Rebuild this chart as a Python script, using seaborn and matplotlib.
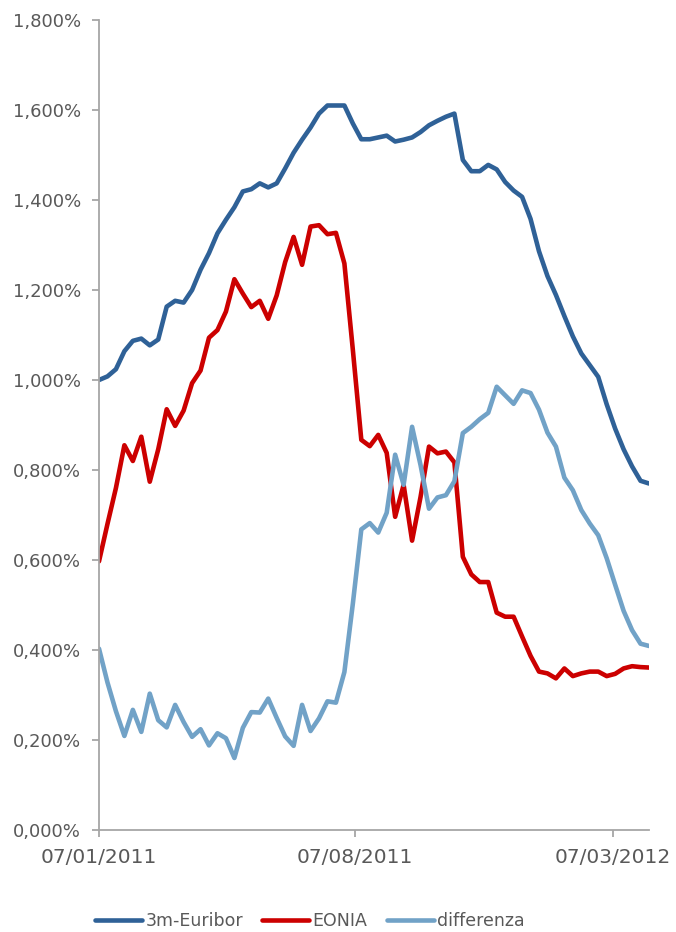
import matplotlib
matplotlib.use("Agg")
import matplotlib.pyplot as plt
import matplotlib.dates as mdates
from matplotlib.ticker import FuncFormatter, MultipleLocator
import numpy as np
import pandas as pd
import seaborn as sns

# Weekly observations starting 07/01/2011
start_date = "2011-01-07"
n_weeks = 66

euribor_3m = [
    1.000, 1.008, 1.024, 1.064, 1.087, 1.092, 1.077, 1.090, 1.163, 1.176,
    1.172, 1.200, 1.245, 1.282, 1.326, 1.356, 1.384, 1.419, 1.424, 1.437,
    1.428, 1.437, 1.470, 1.505, 1.534, 1.561, 1.592, 1.610, 1.610, 1.610,
    1.570, 1.535, 1.535, 1.539, 1.543, 1.530, 1.534, 1.539, 1.551, 1.566,
    1.576, 1.585, 1.592, 1.489, 1.464, 1.464, 1.478, 1.468, 1.440, 1.421,
    1.407, 1.358, 1.286, 1.231, 1.189, 1.142, 1.097, 1.059, 1.033, 1.007,
    0.946, 0.892, 0.846, 0.808, 0.776, 0.770,
]

eonia = [
    0.597, 0.680, 0.760, 0.855, 0.820, 0.874, 0.774, 0.846, 0.935, 0.898,
    0.932, 0.993, 1.021, 1.094, 1.111, 1.152, 1.224, 1.192, 1.162, 1.176,
    1.136, 1.188, 1.262, 1.318, 1.256, 1.341, 1.344, 1.324, 1.327, 1.259,
    1.067, 0.867, 0.853, 0.878, 0.838, 0.696, 0.767, 0.643, 0.740, 0.852,
    0.837, 0.841, 0.817, 0.607, 0.568, 0.551, 0.551, 0.483, 0.474, 0.474,
    0.430, 0.387, 0.352, 0.348, 0.337, 0.359, 0.342, 0.348, 0.352, 0.352,
    0.342, 0.347, 0.359, 0.364, 0.362, 0.361,
]

differenza = [
    0.403, 0.328, 0.264, 0.209, 0.267, 0.218, 0.303, 0.244, 0.228, 0.278,
    0.240, 0.207, 0.224, 0.188, 0.215, 0.204, 0.160, 0.227, 0.262, 0.261,
    0.292, 0.249, 0.208, 0.187, 0.278, 0.220, 0.248, 0.286, 0.283, 0.351,
    0.503, 0.668, 0.682, 0.661, 0.705, 0.834, 0.767, 0.896, 0.811, 0.714,
    0.739, 0.744, 0.775, 0.882, 0.896, 0.913, 0.927, 0.985, 0.966, 0.947,
    0.977, 0.971, 0.934, 0.883, 0.852, 0.783, 0.755, 0.711, 0.681, 0.655,
    0.604, 0.545, 0.487, 0.444, 0.414, 0.409,
]

series_names = ["3m-Euribor", "EONIA", "differenza"]
series_colors = ["#2F6197", "#CC0000", "#71A2C7"]
tick_dates = ["2011-01-07", "2011-08-07", "2012-03-07"]

dates = pd.date_range(start_date, periods=n_weeks, freq="7D")
df = pd.concat([
    pd.DataFrame({"data": dates, "valore": vals, "serie": name})
    for name, vals in zip(series_names, [euribor_3m, eonia, differenza])
], ignore_index=True)

sns.set_theme(style="white")
plt.rcParams["font.family"] = ["DejaVu Sans"]

fig = plt.figure(figsize=(6.76, 9.32), dpi=100)
ax = fig.add_axes([99 / 676, 1 - 830 / 932, 550 / 676, 810 / 932])

sns.lineplot(
    data=df, x="data", y="valore", hue="serie", hue_order=series_names,
    palette=dict(zip(series_names, series_colors)), linewidth=3.3,
    ax=ax, legend=True,
)
for ln in ax.get_lines():
    ln.set_solid_joinstyle("round")
    ln.set_solid_capstyle("round")

ax.set_ylim(0, 1.8)
ax.set_xlim(dates[0], dates[-1])
ax.yaxis.set_major_locator(MultipleLocator(0.2))
ax.yaxis.set_major_formatter(FuncFormatter(lambda v, p: f"{v:.3f}%".replace(".", ",")))
ax.set_xticks(pd.to_datetime(tick_dates))
ax.xaxis.set_major_formatter(mdates.DateFormatter("%d/%m/%Y"))

ax.set_xlabel("")
ax.set_ylabel("")
grey = "#A6A6A6"
for side in ["top", "right"]:
    ax.spines[side].set_visible(False)
for side in ["left", "bottom"]:
    ax.spines[side].set_color(grey)
    ax.spines[side].set_linewidth(1.3)
ax.tick_params(axis="both", which="major", direction="out", length=5, width=1.3,
               color=grey, labelcolor="#595959", pad=8)
ax.tick_params(axis="y", left=True, labelsize=13)
ax.tick_params(axis="x", bottom=True, labelsize=14.5)
ax.grid(False)

handles, labels = ax.get_legend_handles_labels()
ax.get_legend().remove()
leg = fig.legend(
    handles, labels, loc="center", bbox_to_anchor=(310 / 676, 1 - 921 / 932),
    ncol=3, frameon=False, fontsize=12.5, handlelength=2.7, handletextpad=0.2,
    columnspacing=1.1,
)
for t in leg.get_texts():
    t.set_color("#595959")
for h in leg.get_lines():
    h.set_linewidth(3.3)
    h.set_solid_capstyle("round")

fig.savefig("out.png", dpi=100)
